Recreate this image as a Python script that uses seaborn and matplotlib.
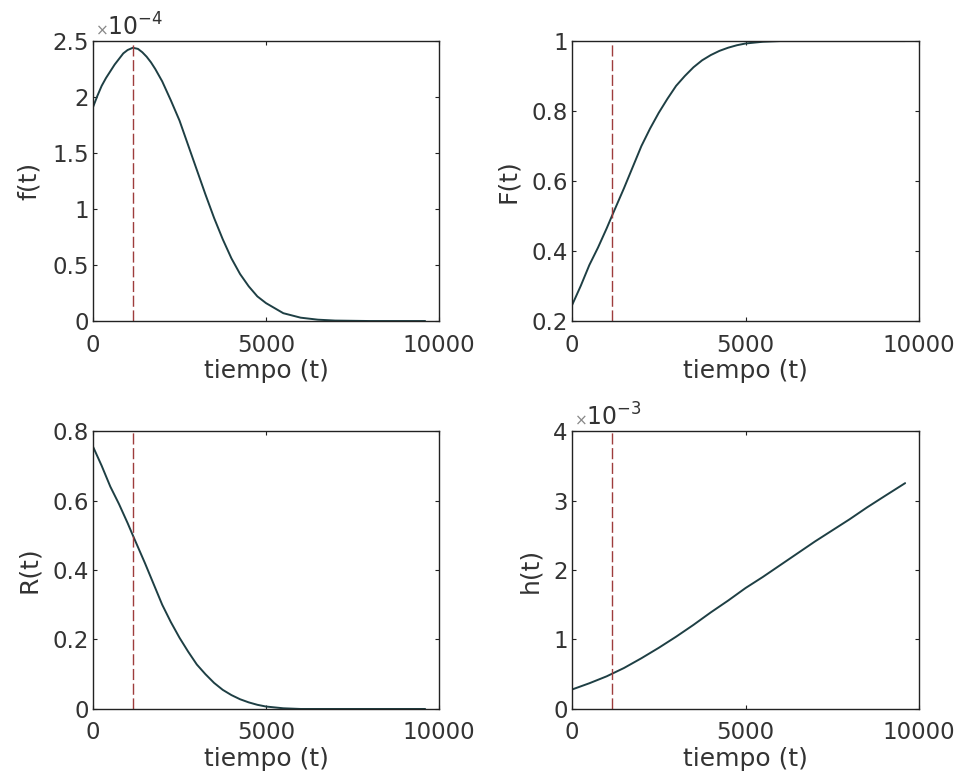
import numpy as np
import pandas as pd
import matplotlib
matplotlib.use("Agg")
import matplotlib.pyplot as plt
import seaborn as sns
from matplotlib.ticker import FuncFormatter

# ---- data ----
t_f = [0, 125, 250, 375, 500, 625, 750, 875, 1000, 1150, 1300, 1425, 1550, 1675, 1800, 2000,
       2250, 2500, 2750, 3000, 3250, 3500, 3750, 4000, 4250, 4500, 4750, 5000, 5500, 6000,
       6500, 7000, 8000, 9000, 9600]
f_vals = [1.91, 2.01, 2.10, 2.17, 2.23, 2.29, 2.34, 2.39, 2.42, 2.44, 2.43, 2.40, 2.36, 2.31, 2.25, 2.14,
          1.97, 1.79, 1.57, 1.35, 1.13, 0.92, 0.73, 0.56, 0.42, 0.31, 0.22, 0.16, 0.07, 0.03,
          0.012, 0.004, 0.0, 0.0, 0.0]  # x1e-4

t_F = [0, 250, 500, 750, 1000, 1150, 1500, 1750, 2000, 2250, 2500, 2750, 3000, 3250,
       3500, 3750, 4000, 4250, 4500, 4750, 5000, 5500, 6000, 7000, 8000, 9600]
F_vals = [0.245, 0.30, 0.36, 0.41, 0.465, 0.50, 0.58, 0.64, 0.70, 0.75, 0.795, 0.835, 0.872, 0.90,
          0.925, 0.945, 0.96, 0.972, 0.981, 0.988, 0.993, 0.998, 1.0, 1.0, 1.0, 1.0]

t_R = [0, 250, 500, 750, 1000, 1150, 1500, 1750, 2000, 2250, 2500, 2750, 3000, 3250,
       3500, 3750, 4000, 4250, 4500, 4750, 5000, 5500, 6000, 7000, 8000, 9600]
R_vals = [0.755, 0.70, 0.64, 0.59, 0.535, 0.50, 0.42, 0.36, 0.30, 0.25, 0.205, 0.165, 0.128, 0.10,
          0.075, 0.055, 0.04, 0.028, 0.019, 0.012, 0.007, 0.002, 0.0, 0.0, 0.0, 0.0]

t_h = [0, 500, 1000, 1500, 2000, 2500, 3000, 3500, 4000, 4500, 5000, 5500, 6000, 6500,
       7000, 7500, 8000, 8500, 9000, 9600]
h_vals = [0.28, 0.37, 0.47, 0.59, 0.73, 0.88, 1.04, 1.21, 1.39, 1.56, 1.74, 1.90, 2.07, 2.24,
          2.41, 2.57, 2.73, 2.90, 3.06, 3.25]  # x1e-3

t_mark = 1150

panels = [
    ("f(t)", t_f, f_vals, (0, 2.5), [0, 0.5, 1, 1.5, 2, 2.5], "-4"),
    ("F(t)", t_F, F_vals, (0.2, 1), [0.2, 0.4, 0.6, 0.8, 1], None),
    ("R(t)", t_R, R_vals, (0, 0.8), [0, 0.2, 0.4, 0.6, 0.8], None),
    ("h(t)", t_h, h_vals, (0, 4), [0, 1, 2, 3, 4], "-3"),
]

sns.set_theme(style="white")
plt.rcParams['font.family'] = ['DejaVu Sans']
txt = "#333333"
plt.rcParams.update({
    "xtick.direction": "in", "ytick.direction": "in",
    "xtick.major.size": 3, "ytick.major.size": 3,
    "xtick.major.width": 0.8, "ytick.major.width": 0.8,
    "xtick.top": True, "ytick.right": True,
    "xtick.bottom": True, "ytick.left": True,
    "axes.edgecolor": "#222222", "axes.linewidth": 1.0,
    "text.color": txt, "axes.labelcolor": txt,
    "xtick.color": "#222222", "ytick.color": "#222222",
    "xtick.labelcolor": txt, "ytick.labelcolor": txt,
})

fig = plt.figure(figsize=(9.57, 7.79), dpi=100)
positions = [
    [0.0972, 0.5879, 0.3615, 0.3594],
    [0.5977, 0.5879, 0.3626, 0.3594],
    [0.0972, 0.0899, 0.3615, 0.3568],
    [0.5977, 0.0899, 0.3626, 0.3568],
]

fmt = FuncFormatter(lambda v, p: f"{v:g}")
line_color = "#1e3f44"
dash_color = "#9e3c3c"

for pos, (lab, tt, vv, ylim, yt, expo) in zip(positions, panels):
    ax = fig.add_axes(pos)
    df = pd.DataFrame({"t": tt, "v": vv})
    sns.lineplot(data=df, x="t", y="v", ax=ax, color=line_color, linewidth=1.4)
    ax.axvline(t_mark, color=dash_color, linewidth=1.0, linestyle=(0, (8, 2.6)))
    ax.set_xlim(0, 10000)
    ax.set_ylim(*ylim)
    ax.set_xticks([0, 5000, 10000])
    ax.set_yticks(yt)
    ax.xaxis.set_major_formatter(fmt)
    ax.yaxis.set_major_formatter(fmt)
    ax.tick_params(labelsize=16.5, pad=3)
    ax.tick_params(axis="x", pad=9)
    ax.set_xlabel("tiempo (t)", fontsize=18, labelpad=2)
    ax.set_ylabel(lab, fontsize=18, labelpad=8)
    for s in ax.spines.values():
        s.set_visible(True)
    if expo is not None:
        ax.text(0.005, 1.012, r"$\times$", transform=ax.transAxes, fontsize=11,
                color="#888888", ha="left", va="bottom")
        ax.text(0.04, 1.0, r"10$^{" + expo + "}$", transform=ax.transAxes, fontsize=17,
                ha="left", va="bottom")

fig.savefig("out.png", dpi=100)
